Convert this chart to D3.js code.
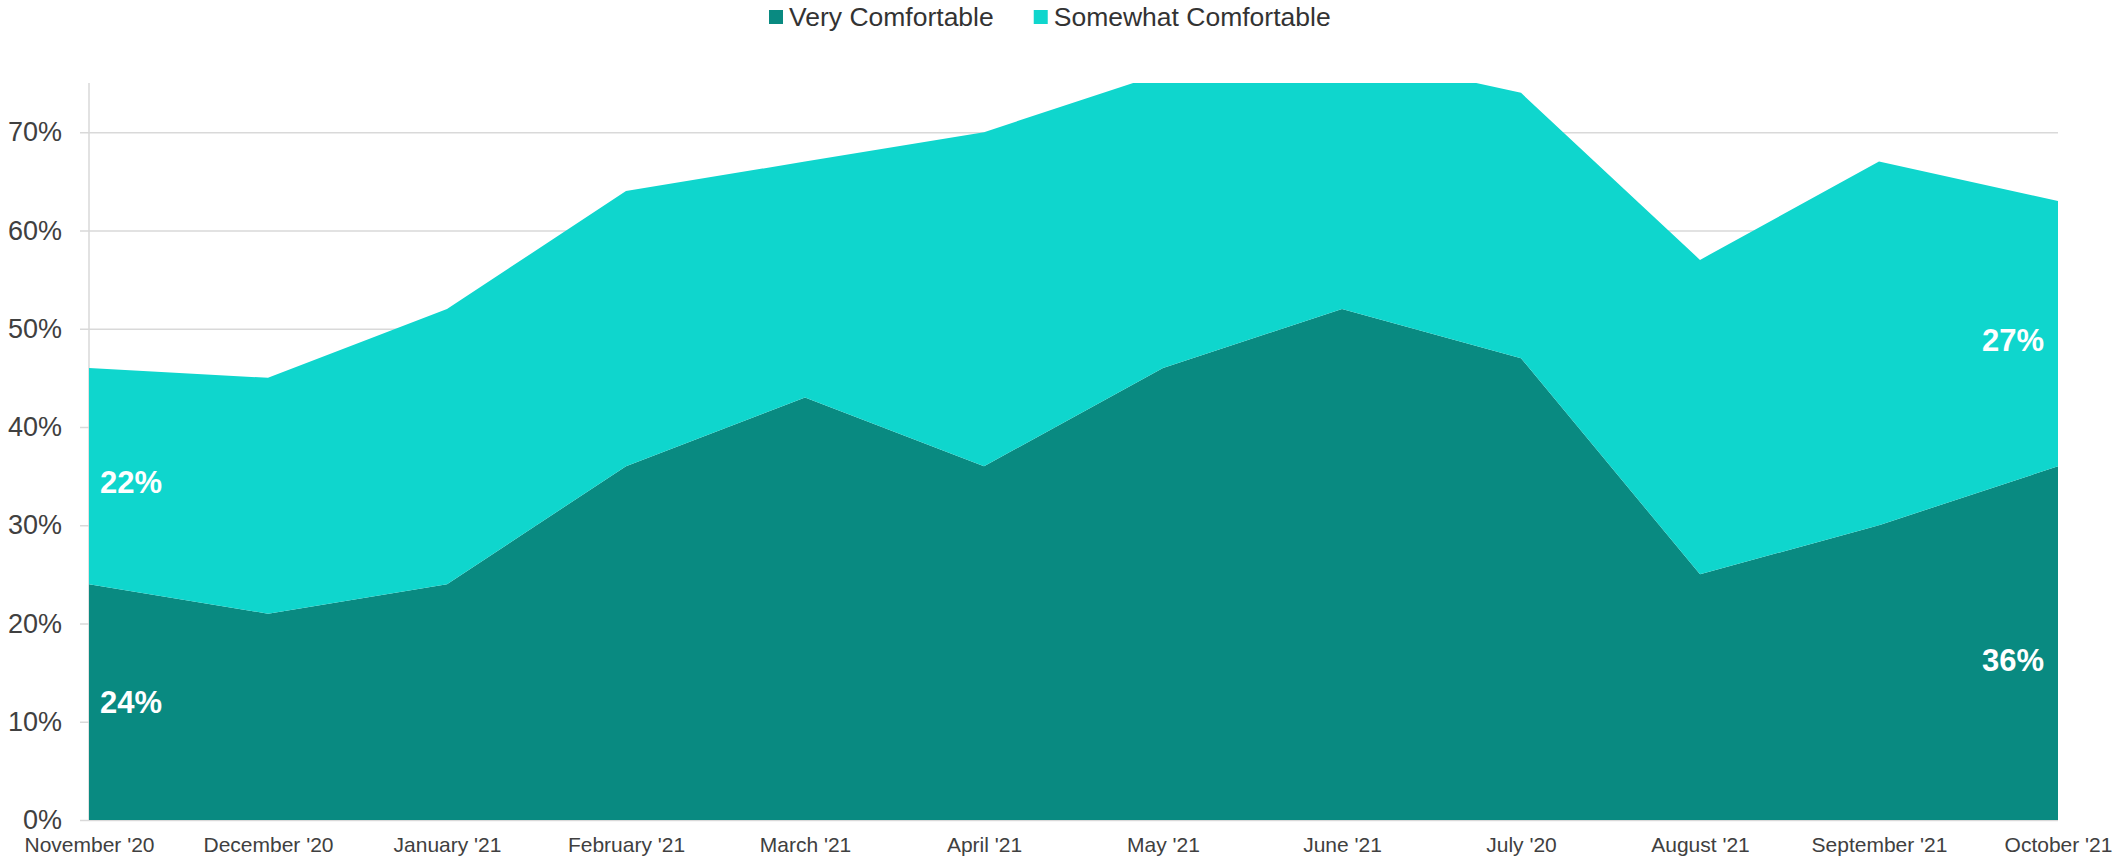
<!DOCTYPE html>
<html>
<head>
<meta charset="utf-8">
<script src="https://cdn.jsdelivr.net/npm/d3@7"></script>
<style>
  html, body { margin: 0; padding: 0; background: #fff; }
  svg { display: block; font-family: "Liberation Sans", Arial, sans-serif; }
</style>
</head>
<body>
<svg id="chart" width="2114" height="857"></svg>
<script>
'use strict';

// chart data
var months = ["November '20", "December '20", "January '21", "February '21", "March '21", "April '21",
              "May '21", "June '21", "July '20", "August '21", "September '21", "October '21"];
var veryComfortable = [24, 21, 24, 36, 43, 36, 46, 52, 47, 25, 30, 36];
var somewhatComfortable = [22, 24, 28, 28, 24, 34, 30, 26, 27, 32, 37, 27];
var seriesNames = ['Very Comfortable', 'Somewhat Comfortable'];
var seriesColors = ['#098a81', '#0fd6cd'];
var yTicks = [0, 10, 20, 30, 40, 50, 60, 70];
var yMax = 75;

(function() {
  var width = 2114, height = 857;
  var margin = {top: 83, right: 56, bottom: 37, left: 89};
  var innerW = width - margin.left - margin.right;
  var innerH = height - margin.top - margin.bottom;

  var svg = d3.select('#chart');

  var rows = months.map(function(m, i) {
    return {month: m, very: veryComfortable[i], somewhat: somewhatComfortable[i]};
  });
  var stacked = d3.stack().keys(['very', 'somewhat'])(rows);

  var x = d3.scalePoint().domain(months).range([0, innerW]);
  var y = d3.scaleLinear().domain([0, yMax]).range([innerH, 0]);

  var g = svg.append('g').attr('transform', 'translate(' + margin.left + ',' + margin.top + ')');

  // gridlines + small ticks on the left
  var yAxis = g.append('g')
    .call(d3.axisLeft(y).tickValues(yTicks).tickSize(-innerW)
      .tickFormat(function(d) { return d + '%'; }));
  yAxis.select('.domain').remove();
  yAxis.selectAll('.tick line').attr('stroke', '#d9d9d9').attr('stroke-width', 1.5).attr('x1', -9);
  yAxis.selectAll('.tick text')
    .attr('x', -27)
    .attr('fill', '#404040')
    .style('font-size', '27px');

  // vertical axis line
  g.append('line')
    .attr('x1', 0).attr('x2', 0)
    .attr('y1', y(0)).attr('y2', y(yMax))
    .attr('stroke', '#d9d9d9').attr('stroke-width', 1.5);

  svg.append('defs').append('clipPath').attr('id', 'plotClip')
    .append('rect').attr('x', 0).attr('y', 0).attr('width', innerW).attr('height', innerH);

  var area = d3.area()
    .x(function(d) { return x(d.data.month); })
    .y0(function(d) { return y(d[0]); })
    .y1(function(d) { return y(d[1]); });

  g.append('g').attr('clip-path', 'url(#plotClip)')
    .selectAll('path')
    .data(stacked)
    .enter().append('path')
      .attr('fill', function(d, i) { return seriesColors[i]; })
      .attr('d', area);

  // month labels
  var xAxis = g.append('g')
    .attr('transform', 'translate(0,' + innerH + ')')
    .call(d3.axisBottom(x).tickSize(0).tickPadding(0));
  xAxis.select('.domain').remove();
  xAxis.selectAll('.tick text')
    .attr('y', 32)
    .attr('dy', null)
    .attr('fill', '#404040')
    .style('font-size', '21px');

  // value labels on first and last month
  var ends = [];
  stacked.forEach(function(s, i) {
    ends.push({pt: s[0], anchor: 'start', dx: 11, dy: i === 0 ? 0 : 6});
    ends.push({pt: s[s.length - 1], anchor: 'end', dx: -14, dy: i === 0 ? 17 : 6});
  });
  g.selectAll('text.endLabel')
    .data(ends)
    .enter().append('text')
      .attr('class', 'endLabel')
      .attr('x', function(d) { return x(d.pt.data.month) + d.dx; })
      .attr('y', function(d) { return y((d.pt[0] + d.pt[1]) / 2) + d.dy; })
      .attr('dy', '0.36em')
      .attr('text-anchor', function(d) { return d.anchor; })
      .attr('fill', '#fff')
      .style('font-size', '31px')
      .style('font-weight', 'bold')
      .text(function(d) { return (d.pt[1] - d.pt[0]) + '%'; });

  // legend
  var legend = svg.append('g').attr('transform', 'translate(769,17)');
  var lx = 0;
  seriesNames.forEach(function(name, i) {
    var item = legend.append('g').attr('transform', 'translate(' + lx + ',0)');
    item.append('rect').attr('x', 0).attr('y', -7).attr('width', 14).attr('height', 14)
      .attr('fill', seriesColors[i]);
    var t = item.append('text').attr('x', 20).attr('dy', '0.35em')
      .attr('fill', '#333').style('font-size', '26.5px').text(name);
    lx += 20 + t.node().getComputedTextLength() + 40;
  });
}());
</script>
</body>
</html>
